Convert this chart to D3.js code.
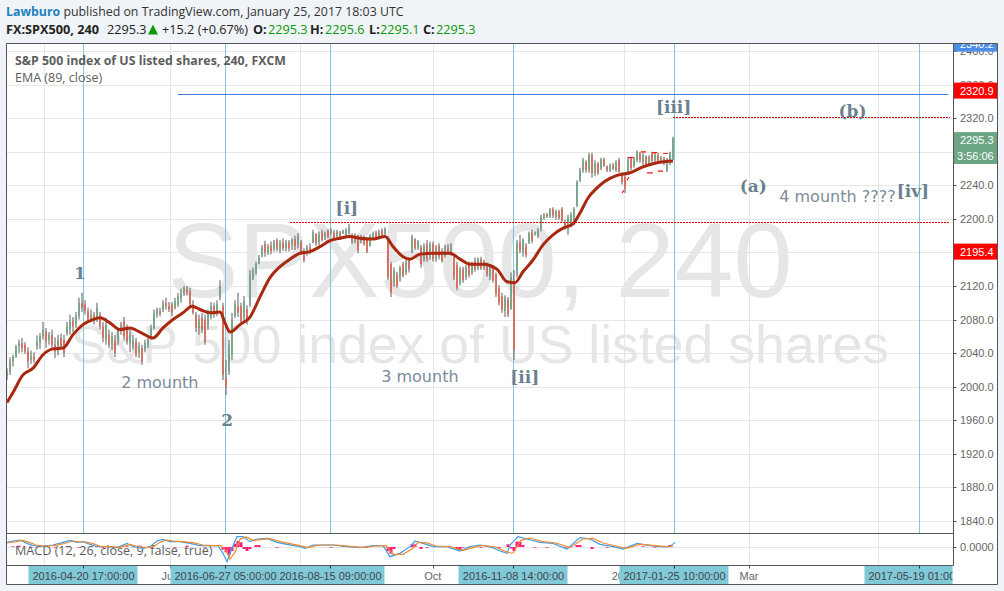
<!DOCTYPE html>
<html><head><meta charset="utf-8">
<script src="https://cdnjs.cloudflare.com/ajax/libs/d3/7.8.5/d3.min.js"></script>
<style>
html,body{margin:0;padding:0;background:#f0f3f7;overflow:hidden}
svg{display:block}
</style></head><body><svg id="c" width="1004" height="591"></svg>
<script>
// ---- candle values, one per bar, oldest first
const highs=[2022,2035,2038,2050,2056,2058,2053,2047,2043,2041,
2061,2064,2077,2070,2065,2068,2059,2062,2063,2062,
2077,2086,2083,2089,2106,2112,2103,2094,2092,2089,
2100,2089,2077,2082,2068,2065,2062,2070,2077,2083,
2074,2068,2062,2058,2053,2050,2056,2058,2074,2092,
2094,2094,2103,2106,2101,2101,2106,2112,2117,2120,
2120,2118,2103,2089,2086,2088,2086,2092,2101,2100,
2103,2127,2100,2032,2056,2088,2103,2112,2100,2108,
2097,2139,2142,2149,2157,2169,2174,2170,2173,2175,
2177,2175,2177,2175,2175,2177,2180,2183,2175,2165,
2169,2171,2187,2183,2185,2187,2185,2188,2189,2187,
2187,2186,2187,2189,2194,2183,2183,2181,2181,2180,
2177,2182,2185,2186,2187,2189,2190,2179,2149,2142,
2137,2144,2149,2151,2154,2181,2177,2175,2169,2171,
2175,2173,2173,2169,2171,2165,2169,2170,2171,2157,
2149,2143,2143,2145,2149,2149,2154,2154,2155,2151,
2148,2145,2145,2136,2121,2112,2109,2107,2136,2139,
2175,2181,2177,2171,2185,2187,2185,2189,2205,2207,
2207,2213,2214,2211,2211,2214,2199,2205,2208,2214,
2246,2261,2273,2270,2279,2279,2270,2268,2273,2273,
2264,2266,2267,2270,2273,2256,2255,2274,2274,2274,
2282,2280,2279,2276,2276,2280,2279,2279,2275,2274,
2273,2280,2298];
const lows=[2008,2014,2024,2034,2040,2041,2039,2022,2027,2028,
2044,2045,2056,2046,2050,2044,2034,2037,2044,2035,
2061,2062,2065,2070,2080,2089,2086,2076,2077,2074,
2077,2068,2053,2050,2046,2044,2035,2050,2062,2056,
2050,2041,2044,2035,2034,2026,2041,2046,2056,2068,
2082,2084,2089,2092,2089,2084,2092,2095,2100,2108,
2109,2095,2086,2065,2062,2064,2050,2068,2080,2082,
2084,2103,2008,1990,2014,2032,2082,2083,2074,2077,
2074,2095,2127,2133,2146,2154,2155,2157,2158,2161,
2161,2159,2162,2161,2161,2163,2163,2165,2157,2148,
2156,2158,2171,2168,2169,2173,2175,2177,2181,2175,
2177,2175,2182,2177,2181,2170,2171,2159,2171,2168,
2159,2167,2175,2175,2176,2177,2179,2127,2107,2119,
2118,2125,2130,2133,2136,2159,2163,2163,2142,2149,
2149,2151,2149,2149,2152,2148,2154,2157,2156,2127,
2115,2121,2124,2127,2130,2133,2137,2139,2139,2139,
2131,2127,2124,2107,2097,2088,2083,2083,2092,2032,
2130,2159,2155,2154,2170,2171,2180,2177,2185,2199,
2201,2201,2201,2199,2199,2196,2187,2181,2190,2193,
2214,2244,2255,2255,2255,2249,2251,2252,2258,2262,
2256,2256,2258,2256,2255,2241,2231,2252,2258,2261,
2268,2267,2264,2262,2264,2267,2267,2266,2267,2264,
2256,2264,2270];
const opens=[2012,2018,2030,2036,2048,2052,2050,2042,2032,2036,
2048,2052,2060,2066,2056,2062,2050,2042,2058,2056,
2064,2068,2078,2074,2084,2100,2098,2090,2080,2086,
2080,2086,2072,2056,2062,2050,2056,2054,2066,2078,
2070,2052,2048,2054,2040,2046,2044,2050,2058,2070,
2086,2090,2092,2100,2096,2098,2094,2098,2104,2112,
2116,2114,2098,2086,2070,2082,2080,2072,2084,2096,
2088,2106,2096,2010,2018,2038,2084,2096,2096,2082,
2092,2098,2130,2136,2148,2156,2170,2160,2168,2164,
2174,2162,2172,2166,2172,2168,2176,2170,2172,2162,
2158,2166,2172,2182,2172,2184,2178,2186,2183,2184,
2179,2184,2183,2180,2183,2181,2173,2180,2173,2178,
2175,2168,2176,2184,2178,2186,2182,2178,2146,2124,
2134,2128,2146,2136,2150,2160,2176,2166,2166,2152,
2170,2154,2170,2152,2168,2162,2156,2166,2160,2155,
2145,2124,2140,2130,2146,2136,2150,2142,2152,2142,
2146,2132,2142,2134,2118,2108,2090,2104,2092,2126,
2134,2172,2160,2168,2172,2184,2182,2180,2188,2201,
2205,2203,2212,2202,2209,2212,2196,2188,2192,2196,
2216,2246,2258,2268,2258,2276,2254,2266,2260,2271,
2262,2258,2264,2258,2270,2254,2250,2254,2272,2263,
2270,2278,2268,2274,2266,2278,2270,2276,2270,2272,
2258,2266,2272];
const closes=[2018,2030,2036,2048,2052,2046,2042,2030,2036,2032,
2054,2060,2068,2054,2062,2050,2042,2056,2048,2040,
2072,2078,2072,2084,2100,2094,2090,2080,2086,2078,
2094,2072,2058,2074,2050,2060,2040,2066,2074,2060,
2054,2062,2056,2038,2048,2030,2052,2056,2070,2088,
2092,2087,2100,2096,2092,2088,2102,2108,2112,2118,
2112,2098,2088,2070,2080,2068,2054,2088,2096,2086,
2098,2120,2014,2000,2050,2080,2098,2088,2078,2102,
2078,2134,2138,2146,2154,2166,2160,2167,2162,2172,
2164,2172,2165,2172,2165,2175,2167,2180,2160,2151,
2166,2160,2184,2171,2182,2175,2183,2179,2187,2177,
2185,2177,2186,2187,2190,2172,2181,2162,2179,2170,
2161,2180,2183,2177,2185,2179,2188,2130,2112,2138,
2120,2142,2132,2148,2140,2178,2166,2173,2146,2168,
2152,2170,2152,2166,2155,2150,2167,2159,2169,2130,
2118,2140,2127,2142,2133,2146,2140,2152,2141,2149,
2134,2143,2127,2110,2100,2092,2106,2086,2130,2044,
2172,2162,2175,2157,2183,2174,2184,2186,2202,2205,
2203,2211,2204,2209,2201,2198,2189,2202,2205,2212,
2244,2258,2270,2258,2276,2254,2266,2255,2271,2264,
2258,2264,2260,2268,2256,2244,2236,2270,2261,2272,
2280,2270,2276,2265,2274,2269,2277,2268,2273,2266,
2271,2279,2296];

// ---- EMA(89), as (bar position, value)
const emaBars=[0,2,5.33,8.67,12,15.33,18.67,22,25.33,28.67,31,34.33,37.67,41,44.33,48.67,52,55.33,58.67,61.67,64.33,67.67,71,72.67,74.33,77.67,81,84.33,87.67,91,94.33,97.67,101,104.33,107.67,111,114.33,117.67,122,126,128.67,132,134.33,137.67,142,147.67,151,154.33,158.67,163.33,166.67,169.33,172,175.33,178.67,182,185.33,188.67,191,193.67,196.67,199.33,203.33,207.67,212,216.67,222];
const emaVals=[1981,1993,2014,2022,2038,2045,2046,2062,2074,2080,2082,2076,2068,2070,2065,2058,2070,2080,2088,2096,2092,2088,2089,2076,2065,2074,2083,2107,2130,2143,2152,2159,2161,2167,2174,2177,2179,2177,2176,2179,2167,2155,2152,2158,2159,2159,2152,2146,2146,2140,2125,2124,2137,2151,2169,2181,2189,2194,2207,2225,2237,2245,2252,2255,2262,2267,2269];
// ---- MACD pane (bar position, value)
const macdBars=[0,2,4.33,6.67,8.67,12,15.33,18.67,21,23.33,
25.33,27.67,30,33.33,36.67,40,42,45.33,47.67,50,
52,54.33,57.67,61,64.33,67.67,70.33,72,73.33,75,
76.67,78.67,81,83.33,86.67,90,93.33,97.67,99.33,102,
105.33,108.67,113.33,117.67,122,125.33,127.67,131,134.33,136,
138.67,142,146.67,151,154.33,157.67,162,164.33,166.67,167.67,
170.33,173.33,177.67,182,186.67,191,194.33,197.67,202,205.33,
210,214.33,218.67,221,222.67];
const macdVals=[7,9,10.5,5.5,2,1.5,3,7,10,7,
8,4,.5,.5,-1,5.5,.5,-2,.5,9,
11.5,8,8,5.5,2,2,2,-9.5,-22,-2,
15.5,15.5,8,12,13,7,4,.5,-2,3,
3,3,.5,-1,2,2,-14.5,-9.5,.5,9,
5.5,.5,.5,-6,.5,3,-1,-6,-9.5,3,
15.5,12,7,5.5,-3,14,12,4,.5,-3,
5.5,2,0,.5,7];
const signalBars=[0,3,5.3,7.7,9.7,13,16.3,19.7,22,24.3,26.3,28.7,31,34.3,37.7,41,43,46.3,48.7,51,53,55.3,58.7,62,65.3,68.7,71.3,73,74.3,76,77.7,79.7,82,84.3,87.7,91,94.3,98.7,100.3,103,106.3,109.7,114.3,118.7,123,126.3,128.7,132,135.3,137,139.7,143,147.7,152,155.3,158.7,163,165.3,167.7,168.7,171.3,174.3,178.7,183,187.7,192,195.3,198.7,203,206.3,211,215.3,219.7,222];
const signalVals=[6,8,10,6.5,3,1.5,2.5,6,9,7.5,7.5,5,1,.5,-.5,4,1.5,-1,0,7,10.5,9,8,6.5,3,2,2,-5,-18,-8,12,15,10,11,12.5,8,5,1,-1,2,3,3,1,-.5,1.5,2,-11,-11,-2,7,6.5,1.5,.5,-5,-1,2.5,0,-5,-9,-9,10,13.5,8,6,-1,12,13,6,1.5,-2,4,2.5,.5,1];
const histBars=[2,4,8,16,20,24,28,32,36,40,44,48,56,60,66,72,73,74,75,76,77,78,79,80,81,83,84,90,100,108,112,120,127,128,129,135,136,138,140,144,150,151,152,158,164,167,168,169,170,171,172,176,180,186,190,191,195,200,206,212,216,221];
const histVals=[1,2,-1,-1,1,-1,1,-1,-1,1,2,-1,-1,2,-1,-4,-8,-12,-6,5,9,7,-3,-6,-3,3,3,-1,-1,-1,2,-1,-6,-10,-3,4,4,-3,-1,1,-4,-5,-1,-1,-2,4,-2,-6,8,8,3,-1,-1,-1,3,3,-3,-1,-1,1,-1,3];

// ---- axes and labels
const priceTicks=[2400,2360,2320,2280,2240,2200,2160,2120,2080,2040,2000,1960,1920,1880,1840];
const priceTickLabels=["2400.0","2360.0","2320.0","2280.0","2240.0","2200.0","2160.0","2120.0","2080.0","2040.0","2000.0","1960.0","1920.0","1880.0","1840.0"];
const monthDates=["2016-04-02","2016-06-01","2016-08-01","2016-10-02","2017-01-01","2017-03-01","2017-04-30"];
const monthLabels=["Apr","Jun","Aug","Oct","2017","Mar","May"];
const markDates=["2016-04-20T17:00","2016-06-27T05:00","2016-08-15T09:00","2016-11-08T14:00","2017-01-25T10:00","2017-05-19T01:00"];
const markLabels=["2016-04-20 17:00:00","2016-06-27 05:00:00","2016-08-15 09:00:00","2016-11-08 14:00:00","2017-01-25 10:00:00","2017-05-19 01:00:00"];
const tagLabels=["2340.2","2320.9","2295.3","2195.4"];
const tagPrices=[2409,2353,2294,2161];
const tagColors=["#4c8ee6","#ff0000","#6ba583","#ff0000"];
const countdown="3:56:06";
const levelBlue=2349, levelRedHigh=2321, levelRedLow=2196;
const waveLabels=["1","2","[i]","[ii]","[iii]","(a)","(b)","[iv]"];
const waveDates=["2016-04-19","2016-06-28","2016-08-23","2016-11-14","2017-01-25","2017-03-03","2017-04-18","2017-05-16"];
const wavePrices=[2128,1953,2206,2004,2326,2232,2322,2226];
const noteLabels=["2 mounth","3 mounth","4 mounth ????"];
const noteDates=["2016-05-27","2016-09-26","2017-04-11"];
const notePrices=[1998,2006,2220];
const ghostFromBar=[207,211.3,215,218.7,213.3,217,206.7,205];
const ghostToBar=[208.7,213,216.7,220.3,215.3,218.7,207.3,205.7];
const ghostFromVal=[2273,2280,2279,2278,2255,2257,2246,2231];
const ghostToVal=[2273,2280,2279,2278,2255,2257,2250,2234];

const svg=d3.select("#c");
const L=6.5,R=953.5,T=43.5,B=533.5,MB=565.5,FB=584.5,FR=997.5;
const y=d3.scaleLinear().domain([1840,2400]).range([520.8,51.2]);
const my=d3.scaleLinear().domain([-30,30]).range([567,527]);
const bx=d3.scaleLinear().domain([0,222]).range([7,673]);
const tx=d3.scaleTime().domain(["2016-04-20T17:00","2016-06-27T05:00","2016-08-15T09:00","2016-11-08T14:00","2017-01-25T10:00","2017-05-19T01:00"].map(d=>new Date(d))).range([83.5,225.5,330.5,513.5,674.5,919.5]);
const D=d=>new Date(d.length==10?d+"T00:00":d);
const grid="#e6e6e6", cyan="#7fc7d6", axisFont="'Liberation Sans',Arial,sans-serif", uiFont="'Open Sans',sans-serif", noteFont="'DejaVu Sans',sans-serif";

// frame background
svg.append("rect").attr("x",L).attr("y",T).attr("width",FR-L).attr("height",FB-T).attr("fill","#fff");
const defs=svg.append("defs");
defs.append("clipPath").attr("id","main").append("rect").attr("x",L).attr("y",T).attr("width",R-L).attr("height",B-T);
defs.append("clipPath").attr("id","pane").append("rect").attr("x",L).attr("y",B).attr("width",R-L).attr("height",MB-B);
defs.append("clipPath").attr("id","axisR").append("rect").attr("x",R).attr("y",T).attr("width",FR-R).attr("height",MB-T);
defs.append("clipPath").attr("id","axisB").append("rect").attr("x",L).attr("y",MB).attr("width",R-L-1).attr("height",FB-MB);

const main=svg.append("g").attr("clip-path","url(#main)");
// grid
main.selectAll(".gh").data(priceTicks).join("line").attr("x1",L).attr("x2",R).attr("y1",d=>Math.round(y(d))+.5).attr("y2",d=>Math.round(y(d))+.5).attr("stroke",grid);
const pane=svg.append("g").attr("clip-path","url(#pane)");
[main,pane].forEach(g=>g.selectAll(".gv").data(monthDates).join("line").attr("x1",d=>Math.round(tx(D(d)))+.5).attr("x2",d=>Math.round(tx(D(d)))+.5).attr("y1",T).attr("y2",MB).attr("stroke",grid));
pane.append("line").attr("x1",L).attr("x2",R).attr("y1",my(0)+.5).attr("y2",my(0)+.5).attr("stroke",grid);

// watermarks
main.append("text").attr("x",480).attr("y",297).attr("text-anchor","middle").attr("font-family",axisFont).attr("font-size",106).attr("fill","#e6e6e6").text("SPX500, 240");
main.append("text").attr("x",480).attr("y",363).attr("text-anchor","middle").attr("font-family",axisFont).attr("font-size",53.6).attr("fill","#e6e6e6").text("S&P 500 index of US listed shares");

// vertical markers
main.selectAll(".mk").data(markDates).join("line").attr("x1",d=>tx(D(d))).attr("x2",d=>tx(D(d))).attr("y1",T).attr("y2",B).attr("stroke",cyan);

// candles
const idx=d3.range(highs.length);
main.append("g").selectAll("line").data(idx).join("line").attr("x1",i=>bx(i)).attr("x2",i=>bx(i)).attr("y1",i=>y(highs[i])).attr("y2",i=>y(lows[i])).attr("stroke","#777").attr("stroke-width",1.2);
main.append("g").selectAll("rect").data(idx).join("rect").attr("x",i=>bx(i)-.75).attr("width",1.5)
 .attr("y",i=>y(Math.max(opens[i],closes[i]))).attr("height",i=>Math.max(1,Math.abs(y(opens[i])-y(closes[i]))))
 .attr("fill",i=>closes[i]>=opens[i]?"#6ba583":"#e4604e");

// EMA
const emaLine=d3.line().x((d,i)=>bx(emaBars[i])).y(d=>y(d)).curve(d3.curveMonotoneX);
main.append("path").attr("d",emaLine(emaVals)).attr("fill","none").attr("stroke","#a8290f").attr("stroke-width",3);

// ghost stubs
main.append("g").selectAll("line").data(ghostFromBar).join("line").attr("x1",(d,i)=>bx(d)).attr("x2",(d,i)=>bx(ghostToBar[i])).attr("y1",(d,i)=>y(ghostFromVal[i])).attr("y2",(d,i)=>y(ghostToVal[i])).attr("stroke","#ff1010").attr("stroke-width",1.2);

// levels
const cy=v=>Math.round(y(v))+.5;
main.append("line").attr("x1",178).attr("x2",948).attr("y1",cy(levelBlue)).attr("y2",cy(levelBlue)).attr("stroke","#3f80e0").attr("stroke-width",1);
main.append("line").attr("x1",673).attr("x2",950).attr("y1",cy(levelRedHigh)).attr("y2",cy(levelRedHigh)).attr("stroke","#cc1010").attr("stroke-dasharray","2 1");
main.append("line").attr("x1",290).attr("x2",950).attr("y1",cy(levelRedLow)).attr("y2",cy(levelRedLow)).attr("stroke","#ff0000").attr("stroke-dasharray","2 1");

// wave labels
main.selectAll(".w").data(waveLabels).join("text").attr("x",(d,i)=>tx(D(waveDates[i]))).attr("y",(d,i)=>y(wavePrices[i])).attr("text-anchor","middle")
 .attr("font-family","'DejaVu Serif','Liberation Serif',serif").attr("font-weight","bold").attr("font-size",17).attr("fill","#6b7f90").text(d=>d);
main.selectAll(".n").data(noteLabels).join("text").attr("x",(d,i)=>tx(D(noteDates[i]))).attr("y",(d,i)=>y(notePrices[i])).attr("text-anchor","middle")
 .attr("font-family",noteFont).attr("font-size",16).attr("fill","#7a8b9a").text(d=>d);

// legend text
main.append("text").attr("x",15).attr("y",65).attr("font-family",uiFont).attr("font-weight","bold").attr("font-size",12.35).attr("fill","#5d5d5d").text("S&P 500 index of US listed shares, 240, FXCM");
main.append("text").attr("x",15).attr("y",82).attr("font-family",uiFont).attr("font-size",12.5).attr("fill","#5d5d5d").text("EMA (89, close)");

// MACD
pane.append("g").selectAll("rect").data(histBars).join("rect").attr("x",d=>bx(d)-1.5).attr("width",3).attr("y",(d,i)=>Math.min(my(0),my(histVals[i]))).attr("height",(d,i)=>Math.abs(my(histVals[i])-my(0))).attr("fill","#ff1a7a");
pane.append("text").attr("x",15).attr("y",555).attr("font-family",uiFont).attr("font-size",12.6).attr("fill","#5d5d5d").text("MACD (12, 26, close, 9, false, true)");
const ml=(b)=>d3.line().x((d,i)=>bx(b[i])).y(d=>my(d));
pane.append("path").attr("d",ml(macdBars)(macdVals)).attr("fill","none").attr("stroke","#3d9fe8").attr("stroke-width",1.2);
pane.append("path").attr("d",ml(signalBars)(signalVals)).attr("fill","none").attr("stroke","#f08a30").attr("stroke-width",1.2);

// price axis
const pa=svg.append("g").attr("clip-path","url(#axisR)");
pa.selectAll(".t").data(priceTicks).join("line").attr("x1",R).attr("x2",R+3).attr("y1",d=>Math.round(y(d))+.5).attr("y2",d=>Math.round(y(d))+.5).attr("stroke","#555");
pa.selectAll(".l").data(priceTickLabels).join("text").attr("x",960).attr("y",(d,i)=>y(priceTicks[i])+4).attr("font-family",axisFont).attr("font-size",11).attr("fill","#666").text(d=>d);
pa.append("line").attr("x1",R).attr("x2",R+3).attr("y1",my(0)+.5).attr("y2",my(0)+.5).attr("stroke","#555");
pa.append("text").attr("x",960).attr("y",my(0)+4).attr("font-family",axisFont).attr("font-size",11).attr("fill","#666").text("0.0000");
tagLabels.forEach((t,i)=>{
  const c=y(tagPrices[i]);
  pa.append("rect").attr("x",R).attr("y",c-8).attr("width",FR-R).attr("height",16).attr("fill",tagColors[i]);
  pa.append("text").attr("x",960).attr("y",c+4).attr("font-family",axisFont).attr("font-size",11).attr("fill","#fff").text(t);
});
pa.append("rect").attr("x",R).attr("y",148).attr("width",FR-R).attr("height",16).attr("fill","#6ba583");
pa.append("text").attr("x",957).attr("y",160).attr("font-family",axisFont).attr("font-size",11).attr("fill","#fff").text(countdown);

// time axis
const ta=svg.append("g").attr("clip-path","url(#axisB)");
ta.selectAll(".m").data(monthLabels).join("text").attr("x",(d,i)=>tx(D(monthDates[i]))).attr("y",580).attr("text-anchor","middle").attr("font-family",axisFont).attr("font-size",11).attr("fill","#666").text(d=>d);
ta.selectAll(".mt").data(monthDates).join("line").attr("x1",d=>Math.round(tx(D(d)))+.5).attr("x2",d=>Math.round(tx(D(d)))+.5).attr("y1",MB).attr("y2",MB+3).attr("stroke","#555");
ta.selectAll(".tag").data(markDates).join("rect").attr("x",d=>tx(D(d))-55).attr("y",MB).attr("width",109).attr("height",FB-MB).attr("fill","#7fc9d9");
ta.selectAll(".tt").data(markDates).join("line").attr("x1",d=>tx(D(d))).attr("x2",d=>tx(D(d))).attr("y1",MB).attr("y2",MB+3).attr("stroke","#333");
ta.selectAll(".tl").data(markLabels).join("text").attr("x",(d,i)=>tx(D(markDates[i]))).attr("y",580).attr("text-anchor","middle").attr("font-family",axisFont).attr("font-size",11).attr("fill","#444").text(d=>d);

// frame lines
const frame=[[L,T,FR,T],[L,T,L,FB],[FR,T,FR,FB],[L,FB,FR,FB],[R,T,R,MB],[L,B,R,B],[L,MB,R,MB]];
svg.selectAll(".f").data(frame).join("line").attr("x1",d=>d[0]).attr("y1",d=>d[1]).attr("x2",d=>d[2]).attr("y2",d=>d[3]).attr("stroke","#555").attr("stroke-width",1);

// header
const h=svg.append("g").attr("font-family",uiFont).attr("font-size",12.7);
const t1=h.append("text").attr("x",6).attr("y",16).attr("font-size",12.35);
t1.append("tspan").attr("fill","#1b83bd").attr("font-weight","bold").text("Lawburo");
t1.append("tspan").attr("fill","#333").text(" published on TradingView.com, January 25, 2017 18:03 UTC");
const line2=[["FX:SPX500, 240",6,1,"#222"],["2295.3",107,0,"#222"],["+15.2 (+0.67%)",162,0,"#222"],["O:",253,1,"#222"],["2295.3",268,0,"#0a9a0a"],["H:",310,1,"#222"],["2295.6",325,0,"#0a9a0a"],["L:",369,1,"#222"],["2295.1",380,0,"#0a9a0a"],["C:",423,1,"#222"],["2295.3",436,0,"#0a9a0a"]];
h.selectAll(".l2").data(line2).join("text").attr("x",d=>d[1]).attr("y",34).attr("font-weight",d=>d[2]?"bold":"normal").attr("fill",d=>d[3]).text(d=>d[0]);
h.append("path").attr("d","M148 34.5L153 24.5L158 34.5Z").attr("fill","#0a9a0a");
</script></body></html>
